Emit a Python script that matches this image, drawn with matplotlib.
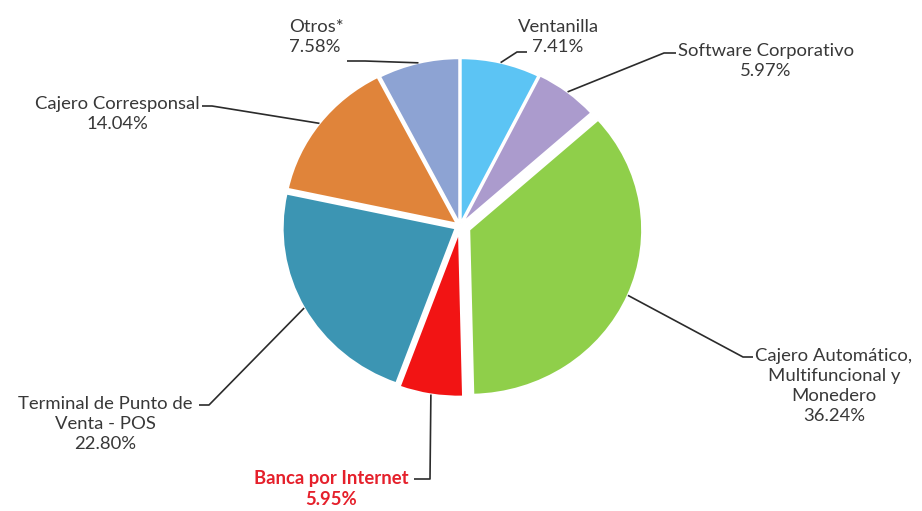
import numpy as np
import matplotlib
matplotlib.use("Agg")
import matplotlib.pyplot as plt

labels = ["Ventanilla", "Software Corporativo",
          "Cajero Automático,\nMultifuncional y\nMonedero", "Banca por Internet",
          "Terminal de Punto de\nVenta - POS", "Cajero Corresponsal", "Otros*"]
values = [7.41, 5.97, 36.24, 5.95, 22.80, 14.04, 7.58]
pct_labels = ["7.41%", "5.97%", "36.24%", "5.95%", "22.80%", "14.04%", "7.58%"]
colors = ["#5cc4f4", "#ab9bcd", "#8fcf4a", "#f21414", "#3c95b3", "#e0843a", "#8da3d3"]
explode_px = [3, 4, 10, 6, 5, 4, 3]

W, H = 922, 511
ASPECT = 0.954  # vertical squeeze of the pie in the reference image
fig = plt.figure(figsize=(W / 100, H / 100), dpi=100)
ax = fig.add_axes([0, 0, 1, 1])


def Y(ypix):
    return (H - ypix) / ASPECT


cx, cy, R = 460, Y(226), 173
wedges, _ = ax.pie(values, colors=colors, startangle=90, counterclock=False,
                   explode=explode_px, radius=R, center=(cx, cy),
                   wedgeprops=dict(edgecolor="white", linewidth=1.5))
ax.set_xlim(0, W)
ax.set_ylim(0, H / ASPECT)
ax.set_aspect("auto")
ax.axis("off")

font = "Lato"
tc = "#383838"

# (text, x, y-center in px from top, ha, color, weight, line start, elbow dx)
label_specs = [
    (labels[0] + "\n" + pct_labels[0], 558, 37, "center", tc, "normal", (527, 52), -10),
    (labels[1] + "\n" + pct_labels[1], 766, 61, "center", tc, "normal", (676, 53), -12),
    (labels[2] + "\n" + pct_labels[2], 834, 386, "center", tc, "normal", (753, 357), -10),
    (labels[3] + "\n" + pct_labels[3], 331, 489, "center", "#e5202b", "bold", (414, 479), 16),
    (labels[4] + "\n" + pct_labels[4], 105, 424, "center", tc, "normal", (199, 405), 10),
    (labels[5] + "\n" + pct_labels[5], 117, 114, "center", tc, "normal", (202, 106), 10),
    (labels[6] + "\n" + pct_labels[6], 289, 37, "left", tc, "normal", (347, 61), 18),
]

for w, ex, (txt, tx, ty, ha, col, wt, anchor, edx) in zip(wedges, explode_px, label_specs):
    ax.text(tx, Y(ty), txt, ha=ha, va="center", fontsize=13.3, family=font,
            color=col, fontweight=wt, linespacing=1.3)
    mid = np.deg2rad((w.theta1 + w.theta2) / 2)
    px = cx + (R + ex) * np.cos(mid)
    py = cy + (R + ex) * np.sin(mid)
    ax0, ay0 = anchor
    ax.plot([ax0, ax0 + edx, px], [Y(ay0), Y(ay0), py], color="#2b2b2b", lw=1.2,
            solid_capstyle="butt")

fig.savefig("out.png", dpi=100, facecolor="white")
